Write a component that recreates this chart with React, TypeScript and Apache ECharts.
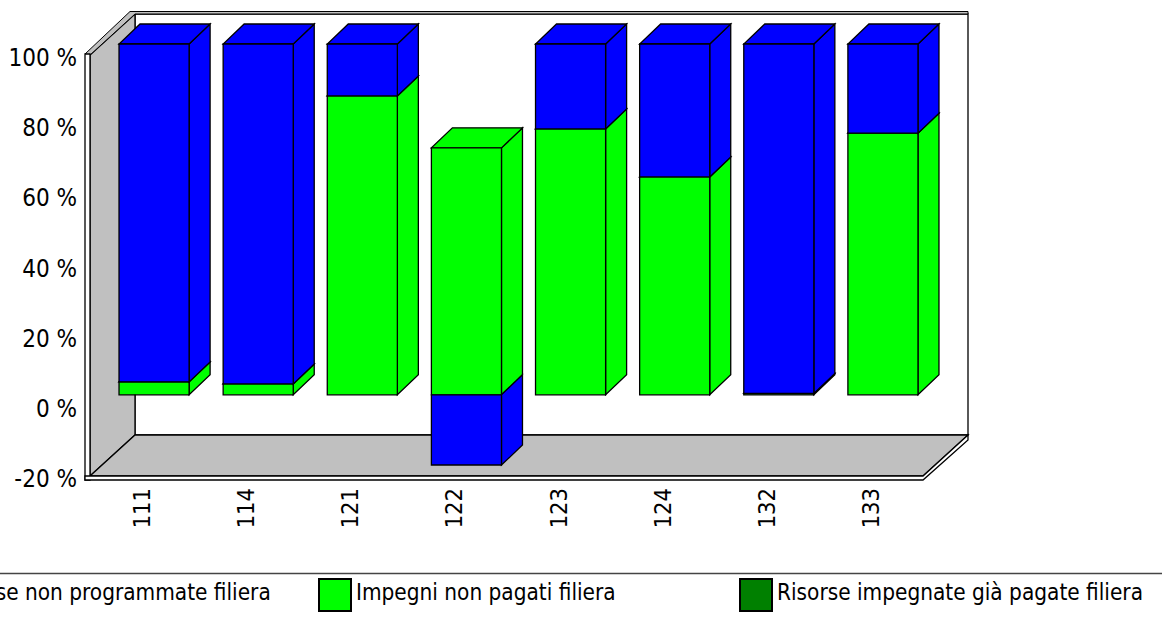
import React, { useEffect, useRef } from "react";
import * as echarts from "echarts";

const categories = ["111", "114", "121", "122", "123", "124", "132", "133"];
const seriesNames = [
  "Risorse non programmate filiera",
  "Impegni non pagati filiera",
  "Risorse impegnate già pagate filiera",
];
const nonProgrammate = [96.3, 96.9, 14.8, -20, 24.2, 37.9, 99.6, 25.4];
const nonPagati = [3.7, 3.1, 85.2, 70.4, 75.8, 62.1, 0, 74.6];
const giaPagate = [0, 0, 0, 0, 0, 0, 0.4, 0];

const FONT = "DejaVu Sans Condensed, DejaVu Sans, sans-serif";
const DX = 12, DY = -11, DEPTH_X = 21, DEPTH_Y = -20, BAR_RATIO = 70 / 104;
const WALL_X = 45, WALL_Y = -41;
const LW = 1.3;

function segments(values: number[], bases: number[]) {
  return values.map((v, i) => {
    if (v < 0) return [i, 0, v];
    return [i, bases[i], bases[i] + v];
  });
}
const greenBase = giaPagate;
const blueBase = giaPagate.map((v, i) => v + nonPagati[i]);

function barRender(color: string) {
  return (params: any, api: any) => {
    const cat = api.value(0), a = api.value(1), b = api.value(2);
    if (a === b) return { type: "group", children: [] };
    const band = api.size([1, 0])[0];
    const w = band * BAR_RATIO;
    const pa = api.coord([cat, a]);
    const pb = api.coord([cat, b]);
    const x0 = pa[0] + DX - w / 2, x1 = x0 + w;
    const yLow = Math.max(pa[1], pb[1]) + DY, yHigh = Math.min(pa[1], pb[1]) + DY;
    const style = { fill: color, stroke: "#000", lineWidth: LW };
    const children: any[] = [
      { type: "polygon", shape: { points: [[x1, yHigh], [x1 + DEPTH_X, yHigh + DEPTH_Y], [x1 + DEPTH_X, yLow + DEPTH_Y], [x1, yLow]] }, style },
    ];
    if (b > a) {
      children.push({ type: "polygon", shape: { points: [[x0, yHigh], [x1, yHigh], [x1 + DEPTH_X, yHigh + DEPTH_Y], [x0 + DEPTH_X, yHigh + DEPTH_Y]] }, style });
    }
    children.push({ type: "rect", shape: { x: x0, y: yHigh, width: w, height: yLow - yHigh }, style });
    return { type: "group", children };
  };
}

function wallsRender(params: any) {
  const { x, y, width, height } = params.coordSys;
  const r = x + width, b = y + height;
  const gray = { fill: "#C0C0C0", stroke: "#000", lineWidth: LW };
  const white = { fill: "#fff", stroke: "#000", lineWidth: LW };
  return {
    type: "group",
    children: [
      { type: "rect", shape: { x: x + WALL_X, y: y + WALL_Y, width, height }, style: white },
      { type: "polygon", shape: { points: [[x, y], [x + WALL_X, y + WALL_Y], [x + WALL_X, b + WALL_Y], [x, b]] }, style: gray },
      { type: "polygon", shape: { points: [[x, b], [x + WALL_X, b + WALL_Y], [r + WALL_X, b + WALL_Y], [r, b]] }, style: gray },
      { type: "polygon", shape: { points: [[x - 5, y - 1], [x + WALL_X - 5, y + WALL_Y - 2.5], [r + WALL_X, y + WALL_Y - 2.5], [r + WALL_X, y + WALL_Y], [x + WALL_X, y + WALL_Y], [x, y]] }, style: { fill: "#C0C0C0", stroke: "#000", lineWidth: 1 } },
      { type: "rect", shape: { x: x - 5, y: y - 1, width: 5, height: height + 5 }, style: white },
      { type: "polygon", shape: { points: [[x - 5, b], [r, b], [r + WALL_X, b + WALL_Y], [r + WALL_X, b + WALL_Y + 5], [r, b + 4], [x - 5, b + 4]] }, style: white },
    ],
  };
}

function legendAt(name: string, left: number) {
  return {
    data: [name],
    left,
    top: 578,
    padding: 0,
    itemWidth: 32,
    itemHeight: 32,
    itemGap: 0,
    icon: "rect",
    selectedMode: false,
    formatter: "{a|{name}}",
    textStyle: {
      fontFamily: FONT,
      fontSize: 22.4,
      color: "#000",
      rich: { a: { fontFamily: FONT, fontSize: 22.4, color: "#000", padding: [0, 0, 6, 0] } },
    },
  };
}

export default function App() {
  const ref = useRef<HTMLDivElement>(null);
  useEffect(() => {
    document.body.style.margin = "0";
    document.body.style.overflow = "hidden";
    const chart = echarts.init(ref.current!, null, { renderer: "svg" });
    const barSeries = (name: string, color: string, data: number[][]) => ({
      type: "custom",
      name,
      renderItem: barRender(color),
      data,
      encode: { x: 0, y: [1, 2] },
      clip: false,
      z: 3,
      itemStyle: { color, borderColor: "#000", borderWidth: 1 },
    });
    chart.setOption({
      animation: false,
      backgroundColor: "#fff",
      grid: { left: 90, right: 239, top: 55, bottom: 142, containLabel: false },
      xAxis: {
        type: "category",
        data: categories,
        axisLine: { show: false },
        axisTick: { show: false },
        splitLine: { show: false },
        axisLabel: { rotate: 90, margin: 12, fontFamily: FONT, fontSize: 23.5, color: "#000", interval: 0 },
      },
      yAxis: {
        type: "value",
        min: -20,
        max: 100,
        interval: 20,
        axisLine: { show: false },
        axisTick: { show: false },
        splitLine: { show: false },
        axisLabel: {
          margin: 13,
          fontFamily: FONT,
          fontSize: 24,
          color: "#000",
          formatter: "{a|{value} %}",
          rich: { a: { fontFamily: FONT, fontSize: 24, color: "#000", padding: [6, 0, 0, 0] } },
        },
      },
      legend: [legendAt(seriesNames[0], -93), legendAt(seriesNames[1], 318), legendAt(seriesNames[2], 739)],
      graphic: [
        { type: "line", shape: { x1: 0, y1: 573.5, x2: 1162, y2: 573.5 }, style: { stroke: "#444", lineWidth: 1.5 } },
      ],
      series: [
        { type: "custom", silent: true, renderItem: wallsRender, data: [[0, 0, 0]], encode: { x: 0, y: 1 }, clip: false, z: 1 },
        barSeries(seriesNames[2], "#008000", segments(giaPagate, giaPagate.map(() => 0))),
        barSeries(seriesNames[1], "#00FF00", segments(nonPagati, greenBase)),
        barSeries(seriesNames[0], "#0000FF", segments(nonProgrammate, blueBase)),
      ],
    });
    return () => chart.dispose();
  }, []);
  return <div ref={ref} style={{ position: "absolute", left: 0, top: 0, width: 1162, height: 618 }} />;
}
